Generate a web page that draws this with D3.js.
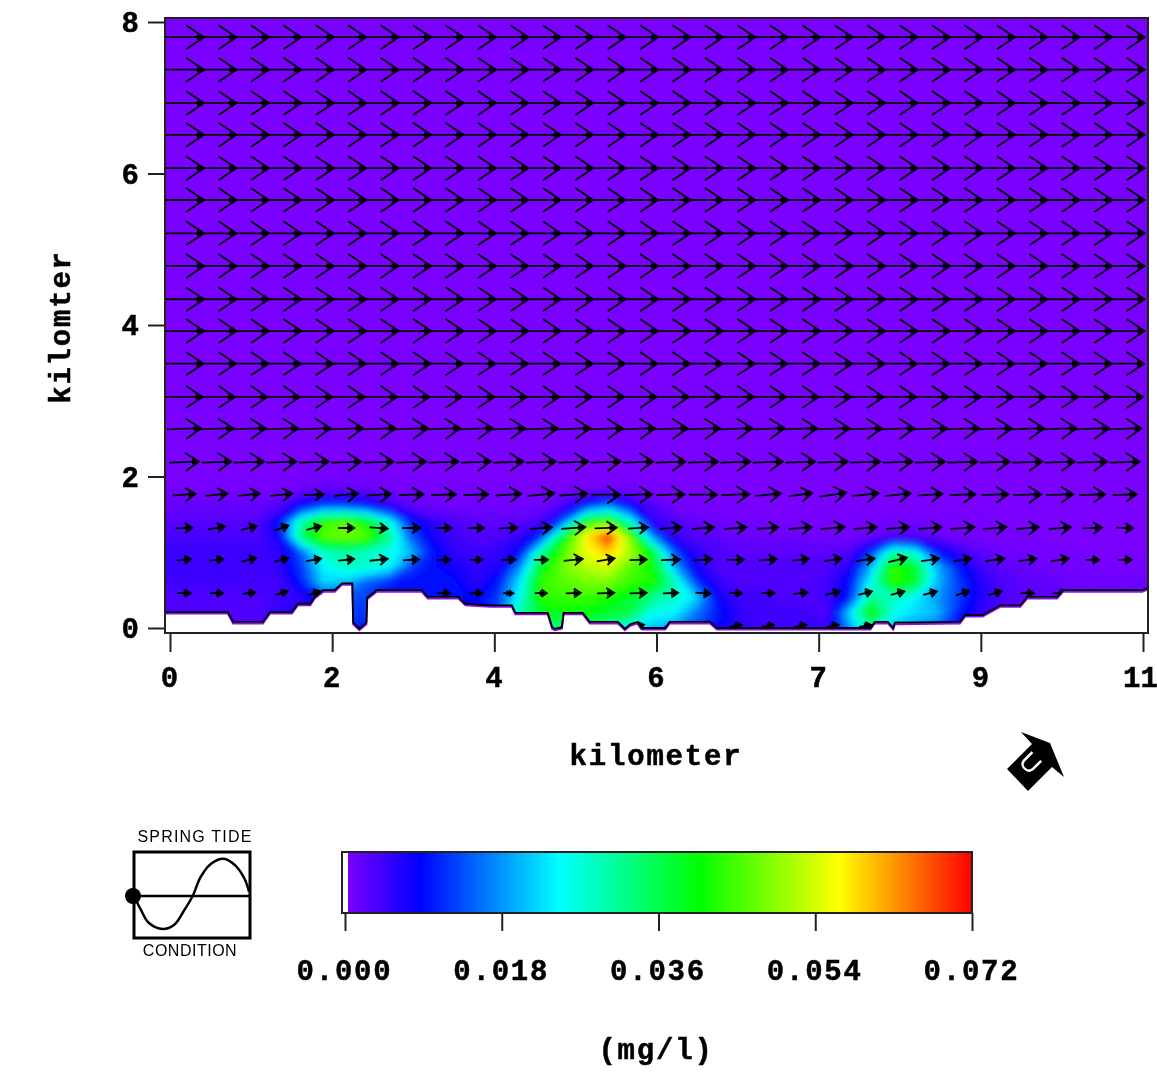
<!DOCTYPE html>
<html>
<head>
<meta charset="utf-8">
<style>
  html, body { margin: 0; background: white; overflow: hidden; }
  svg { display: block; filter: blur(0.5px); }
  text { font-family: "Liberation Mono", monospace; font-weight: bold; fill: black; stroke: black; stroke-width: 0.5px; letter-spacing: 1.8px; }
  text.small { font-family: "Liberation Sans", sans-serif; font-weight: normal; font-size: 16px; stroke: none; letter-spacing: 1.2px; }
</style>
</head>
<body>
<svg id="container" width="1157" height="1081"></svg>
<script src="https://cdn.jsdelivr.net/npm/d3@7"></script>
<script>
// concentration (x 0.001 mg/l). columns every 0.25 km from x=0, rows from y=2.2 down to y=0
const conc = [
  [0,0,0,0,0,0,0,0,0,0,0,0,0,0,0,0,0,0,0,0,0,0,0,0,0,0,0,0,0,0,0,0,0,0,0,0,0,0,0,0,0,0,0,0,0,0],
  [0,0,0,0,0,0,.3,.4,.4,.3,0,0,0,0,0,0,0,0,0,0,0,0,0,0,0,0,0,0,0,0,0,0,0,0,0,0,0,0,0,0,0,0,0,0,0,0],
  [.5,.5,.5,.5,.5,.6,1.5,2,2,1.5,1,.5,.3,.2,.2,.2,.2,.2,.5,1,1.5,1,.4,.2,0,0,0,0,0,0,0,0,0,0,0,0,0,0,0,0,0,0,0,0,0,0],
  [1.5,1.5,1.5,1.5,1.5,3,9,14,14,11,6,2,1,.8,.8,.8,.8,1,4,12,18,9,3,1,.4,.2,.2,0,0,0,0,0,0,0,0,0,0,0,0,0,0,0,0,0,0,0],
  [2.5,2.5,2.5,2.5,2.5,9,30,44,46,40,26,10,5,3,2,2,2,4,16,42,46,28,5,3,1.5,1,1,.5,.3,.3,.3,.3,.3,.3,.3,.3,.2,.2,0,0,0,0,0,0,0,0],
  [3.5,3.5,3.5,3.5,3.5,7,34,46,48,46,32,14,7,4,3,3,5,13,40,58,70,48,18,5,3,2,1,1,1,1,.8,.8,1.5,3,3,1.5,.6,.4,.3,.2,0,0,0,0,0,0],
  [4.5,4.5,4.5,4.5,4,5,14,28,30,28,26,20,9,5,4,5,9,32,46,56,60,52,38,14,5,3,2,2,2,2,2,3,12,30,26,10,5,2,1,.7,.3,.2,0,0,0,0],
  [4.5,4.5,4.5,4.5,4,5,12,24,28,28,24,12,9,7,5,6,18,40,48,52,54,46,42,20,7,3,3,3,3,3,3,6,20,44,38,20,10,4,2,1.5,1,.6,.4,.3,.3,.3],
  [4,4,4,4,4,4,10,22,20,14,10,9,9,9,5,10,24,44,46,48,48,44,42,30,12,5,3,3,3,3,4,9,26,44,38,20,12,6,3,2,2,1,1,1,1,1],
  [3,3,3,3,3,4,5,10,14,12,10,9,9,9,8,12,26,44,44,44,42,38,32,28,22,8,4,4,3,3,4,10,32,28,24,18,12,6,3,2,2,2,1,1,1,1],
  [3,3,3,3,3,5,8,10,12,12,10,9,9,9,8,14,30,38,40,40,38,36,26,24,16,10,5,4,4,4,3,22,42,26,22,20,10,5,3,2,2,2,2,2,2,2],
  [3,3,3,3,3,5,7,10,10,10,10,9,9,9,8,12,24,30,34,34,30,24,20,18,12,8,5,4,4,5,4,18,30,20,18,14,8,5,3,2,2,2,2,2,2,2]
]
// colour bar
const concStops = [0, 8.3, 24.4, 40.6, 56.7, 72]
const concColors = ["#7a00ff", "#0000ff", "#00ffff", "#00ff00", "#ffff00", "#ff0000"]
const barTicks = [0, 18, 36, 54, 72]

// bottom outline, km
const bottomX = [-0.06,0.66,0.72,1.06,1.14,1.39,1.46,1.60,1.65,1.75,1.88,1.96,2.08,2.09,2.16,2.24,2.25,2.36,2.87,2.94,3.29,3.37,3.65,3.90,3.94,4.31,4.36,4.39,4.47,4.49,4.71,4.79,5.11,5.19,5.25,5.33,5.38,5.65,5.70,6.16,6.24,7.99,8.04,8.19,8.25,8.27,9.01,9.07,9.27,9.47,9.70,9.78,10.12,10.19,11.09,11.16]
const bottomY = [0.21,0.21,0.08,0.08,0.21,0.21,0.32,0.32,0.41,0.50,0.50,0.59,0.59,0.07,-0.01,0.07,0.40,0.50,0.50,0.41,0.41,0.32,0.30,0.30,0.20,0.20,0.01,-0.01,0.01,0.20,0.20,0.08,0.08,-0.01,0.05,0.08,0,0,0.08,0.08,0,0,0.08,0.08,0,0.07,0.08,0.17,0.17,0.30,0.30,0.41,0.41,0.50,0.50,0.53]

// current vectors
const vecCols = [0.16,0.53,0.90,1.27,1.64,2.01,2.38,2.75,3.12,3.49,3.86,4.23,4.60,4.97,5.34,5.71,6.08,6.45,6.82,7.19,7.56,7.93,8.30,8.67,9.04,9.41,9.78,10.15,10.52,10.89]
const vecRows = [7.80,7.37,6.93,6.51,6.07,5.65,5.21,4.78,4.34,3.92,3.49,3.05,2.63,2.19,1.76,1.32,0.90,0.46,0.03]
// m/s per row, rows without a per column list
const rowSpeed = [0.40,0.40,0.40,0.40,0.40,0.40,0.40,0.40,0.40,0.40,0.39,0.37,0.34,0.30,0,0,0,0,0.12]
const rowAngle = [0,0,0,0,0,0,0,0,0,0,0,0,2,2,0,0,0,0,10]
const colSpeed = {
  14: [.23,.22,.22,.22,.20,.24,.25,.25,.25,.25,.26,.27,.28,.29,.28,.28,.28,.28,.26,.24,.27,.27,.26,.25,.26,.27,.28,.27,.26,.24],
  15: [.17,.17,.16,.15,.15,.16,.18,.18,.16,.16,.18,.22,.24,.22,.20,.22,.22,.22,.21,.23,.24,.23,.23,.23,.24,.23,.23,.22,.20,.17],
  16: [.14,.14,.15,.14,.15,.16,.18,.16,.14,.13,.14,.14,.19,.18,.17,.19,.18,.17,.18,.17,.18,.19,.19,.18,.18,.19,.18,.18,.14,.14],
  17: [.13,.13,.13,.13,.13,.13,.13,.13,.13,.13,.10,.12,.15,.17,.17,.15,.15,.13,.13,.15,.15,.14,.14,.14,.14,.14,.13,.13,.13,.13]
}
const colAngle = {
  14: [4,6,6,6,2,6,4,2,2,2,4,6,4,0,2,2,0,2,6,8,8,6,6,4,2,2,2,2,2,2],
  15: [2,10,14,20,14,0,-4,0,0,0,2,4,4,2,4,4,4,4,4,4,4,4,4,4,4,4,4,4,2,-2],
  16: [6,6,14,14,10,6,6,4,0,0,0,0,6,10,2,2,4,0,4,6,8,8,14,8,8,8,8,8,0,0],
  17: [0,0,6,18,20,0,0,0,0,0,0,0,2,2,2,2,-4,0,0,8,14,14,14,14,18,18,0,0,0,0]
}

// axis ticks
const xTicks = [0, 1.85, 3.7, 5.55, 7.4, 9.25, 11.1]
const yTicks = [0, 2, 4, 6, 8]

// tide curve, fraction of the period against relative height
const tideT = [0,.06,.13,.25,.35,.43,.51,.58,.67,.78,.88,.96,1]
const tideH = [0,-.42,-.82,-1,-.87,-.47,0,.58,.98,1.13,.93,.53,.13]

const svg = d3.select("#container")

let x = d3.scaleLinear().domain([0, 11.1]).range([170, 1143])
let y = d3.scaleLinear().domain([0, 8]).range([628, 22])
let color = d3.scaleLinear().domain(concStops).range(concColors)
let speedPx = d3.scaleLinear().domain([0, 1]).range([0, 100])

const left = 165, right = 1148, top_ = 18, bottom = 633

let defs = svg.append("defs")
defs.append("clipPath").attr("id", "plot")
  .append("rect").attr("x", left).attr("y", top_).attr("width", right - left).attr("height", bottom - top_)
defs.append("filter").attr("id", "soft")
  .attr("filterUnits", "userSpaceOnUse").attr("x", 100).attr("y", 0).attr("width", 1100).attr("height", 700)
  .append("feGaussianBlur").attr("stdDeviation", 3)

let plot = svg.append("g").attr("clip-path", "url(#plot)")
plot.append("rect").attr("x", left).attr("y", top_).attr("width", right - left).attr("height", bottom - top_)
  .attr("fill", color(0))

// filled concentration contours
let nx = conc[0].length, ny = conc.length
let thresholds = d3.range(0.1, 72, 0.5)
let contours = d3.contours().size([nx, ny]).thresholds(thresholds).smooth(true)(conc.flat())
let gridProj = d3.geoTransform({
  point: function (cx, cy) {
    this.stream.point(x((cx - 0.5) * 0.25), y(2.2 - (cy - 0.5) * 0.2))
  }
})
let path = d3.geoPath().projection(gridProj)
plot.append("g").attr("filter", "url(#soft)")
  .selectAll("path").data(contours).enter().append("path")
  .attr("d", path)
  .attr("fill", d => color(d.value + 0.25))

// vectors
let vectors = []
vecRows.forEach((ry, r) => {
  vecCols.forEach((cx, c) => {
    let s = colSpeed[r] ? colSpeed[r][c] : rowSpeed[r]
    let a = colAngle[r] ? colAngle[r][c] : rowAngle[r]
    vectors.push({ x: cx, y: ry, s: s, a: a })
  })
})
let vec = plot.selectAll("g.v").data(vectors).enter().append("g")
  .attr("class", "v")
  .attr("transform", d => `translate(${x(d.x)},${y(d.y)}) rotate(${-d.a})`)
vec.append("path")
  .attr("d", d => {
    let l = speedPx(d.s)
    return `M${-l / 2},0L${l / 2},0M${l / 2 - 0.45 * l},${-0.3 * l}L${l / 2},0L${l / 2 - 0.45 * l},${0.3 * l}`
  })
  .attr("fill", "none")
  .attr("stroke", "black")
  .attr("stroke-width", 1.8)
vec.append("path")
  .attr("d", d => {
    let l = speedPx(d.s)
    return `M${l / 2},0L${l / 2 - 7},-3L${l / 2 - 7},3Z`
  })
  .attr("fill", "black")

// white bottom
let outline = d3.line().x((d, i) => x(bottomX[i])).y((d, i) => y(bottomY[i]))
let outlineD = outline(bottomX)
plot.append("path")
  .attr("d", outlineD + `L${right},${bottom}L${left},${bottom}Z`)
  .attr("fill", "white")
plot.append("path").attr("d", outlineD).attr("transform", "translate(0,1.5)")
  .attr("fill", "none").attr("stroke", "#8a10e8").attr("stroke-width", 2)
plot.append("path").attr("d", outlineD)
  .attr("fill", "none").attr("stroke", "black").attr("stroke-width", 1.8)

// frame and axes
svg.append("rect").attr("x", left).attr("y", top_).attr("width", right - left).attr("height", bottom - top_)
  .attr("fill", "none").attr("stroke", "#222").attr("stroke-width", 2)

let xAxis = svg.append("g").attr("transform", `translate(0,${bottom})`)
  .call(d3.axisBottom(x).tickValues(xTicks).tickFormat(d3.format(".0f")).tickSize(19).tickSizeOuter(0))
let yAxis = svg.append("g").attr("transform", `translate(${left},0)`)
  .call(d3.axisLeft(y).tickValues(yTicks).tickFormat(d3.format("d")).tickSize(17).tickSizeOuter(0))
xAxis.select(".domain").remove()
yAxis.select(".domain").remove()
svg.selectAll(".tick line").attr("stroke", "#222").attr("stroke-width", 2)
svg.selectAll(".tick text").attr("font-size", 29).style("letter-spacing", "0").attr("fill", "black")
xAxis.selectAll(".tick text").attr("y", 0).attr("dy", "0").attr("dx", -1)
  .attr("transform", "translate(0,54)")
xAxis.selectAll(".tick:last-child text").attr("dx", -3)
yAxis.selectAll(".tick text").attr("x", -26).attr("dy", "0.33em")
svg.selectAll("g[font-family]").attr("font-family", null).attr("font-size", null)

svg.append("text").attr("x", 656).attr("y", 765).attr("text-anchor", "middle").attr("font-size", 29).text("kilometer")
svg.append("text").attr("transform", "translate(70,327) rotate(-90)").attr("text-anchor", "middle").attr("font-size", 29).text("kilomter")
svg.append("text").attr("x", 656).attr("y", 1059).attr("text-anchor", "middle").attr("font-size", 29).text("(mg/l)")

// colour bar
let barX = d3.scaleLinear().domain([0, 72]).range([345, 972])
let barTop = 852, barBottom = 913
let barGrad = defs.append("linearGradient").attr("id", "barGrad")
barGrad.selectAll("stop").data(concStops).enter().append("stop")
  .attr("offset", d => d / 72)
  .attr("stop-color", d => color(d))
svg.append("rect")
  .attr("x", barX(0) + 3).attr("y", barTop).attr("width", barX(72) - barX(0) - 3).attr("height", barBottom - barTop)
  .attr("fill", "url(#barGrad)")
svg.append("rect").attr("x", 342).attr("y", barTop).attr("width", 630).attr("height", barBottom - barTop)
  .attr("fill", "none").attr("stroke", "#222").attr("stroke-width", 2)
let barAxis = svg.append("g").attr("transform", `translate(0,${barBottom})`)
  .call(d3.axisBottom(barX).tickValues(barTicks).tickFormat(d => d3.format(".3f")(d / 1000)).tickSize(18).tickSizeOuter(0))
barAxis.select(".domain").remove()
barAxis.attr("font-family", null).attr("font-size", null)
barAxis.selectAll("line").attr("stroke", "#222").attr("stroke-width", 2)
barAxis.selectAll("text").attr("font-size", 29).attr("y", 0).attr("dy", 0).attr("dx", -1)
  .attr("transform", "translate(0,67)").style("letter-spacing", "1.8px").attr("fill", "black")

// tide box
let tideX = d3.scaleLinear().domain([0, 1]).range([134, 249])
let tideY = d3.scaleLinear().domain([-1, 1]).range([929, 863])
let tide = svg.append("g")
tide.append("rect").attr("x", 134).attr("y", 852).attr("width", 116).attr("height", 86)
  .attr("fill", "none").attr("stroke", "black").attr("stroke-width", 3)
tide.append("line").attr("x1", tideX(0)).attr("x2", 250).attr("y1", tideY(0)).attr("y2", tideY(0))
  .attr("stroke", "black").attr("stroke-width", 2.5)
tide.append("path")
  .attr("d", d3.line().x((d, i) => tideX(tideT[i])).y((d, i) => tideY(tideH[i])).curve(d3.curveCatmullRom)(tideT))
  .attr("fill", "none").attr("stroke", "black").attr("stroke-width", 2.5)
tide.append("circle").attr("cx", tideX(0) - 1).attr("cy", tideY(0)).attr("r", 8).attr("fill", "black")
tide.append("text").attr("class", "small").attr("x", 195).attr("y", 842).attr("text-anchor", "middle").text("SPRING TIDE")
tide.append("text").attr("class", "small").attr("x", 190).attr("y", 956).attr("text-anchor", "middle")
  .style("letter-spacing", "0.5px").text("CONDITION")

// current direction arrow
svg.append("polygon")
  .attr("points", "1021,732 1050,743 1064,777 1052,767 1028,791 1007,769 1032,744")
  .attr("fill", "black")
svg.append("text").attr("class", "small").attr("transform", "translate(1031,763) rotate(45)")
  .attr("text-anchor", "middle").attr("dy", "0.35em")
  .style("font-size", "26px").style("fill", "white").text("U")
</script>
</body>
</html>
